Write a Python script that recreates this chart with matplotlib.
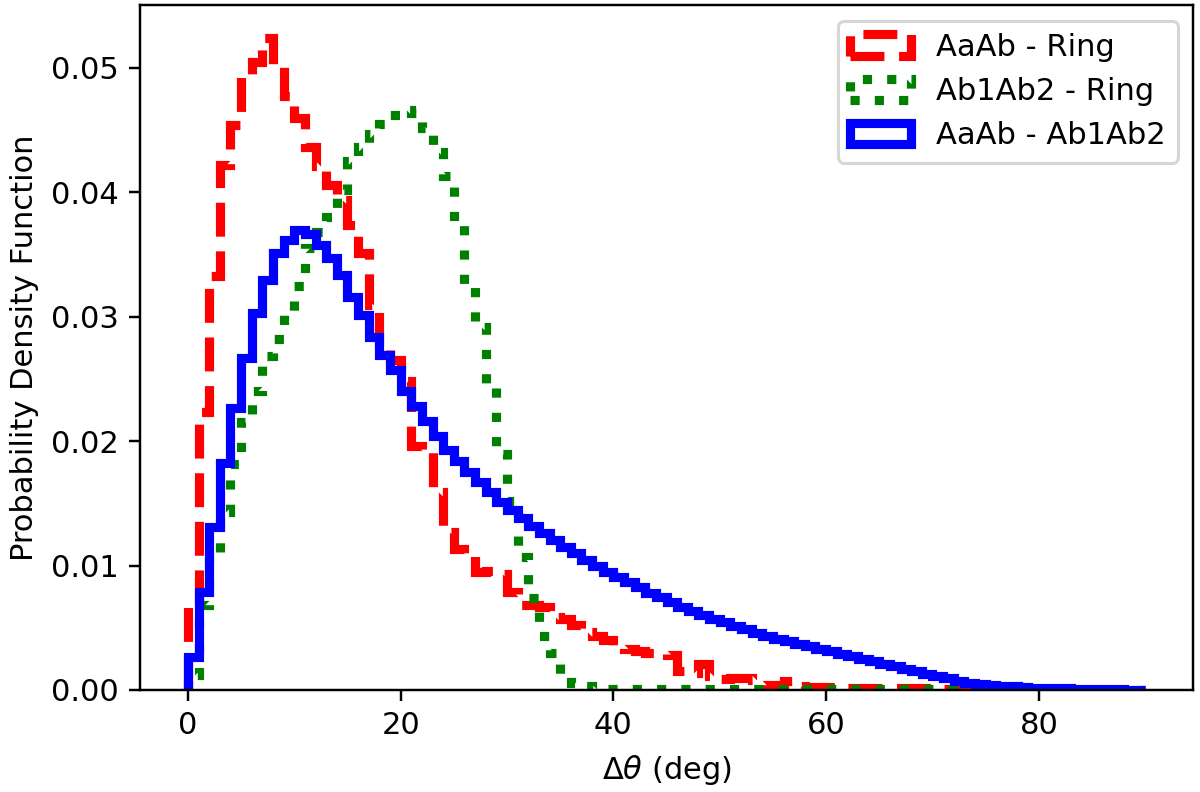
import numpy as np
import matplotlib
matplotlib.use('Agg')
import matplotlib.pyplot as plt

# 1-degree bins from 0 to 90 deg
bin_edges = np.arange(0, 91, 1)

# PDF values per bin
aaab_ring = [
    0.0068, 0.0223, 0.0333, 0.0422, 0.0454, 0.0495, 0.0505, 0.0524, 0.0502, 0.0477,
    0.0460, 0.0436, 0.0421, 0.0406, 0.0394, 0.0374, 0.0351, 0.0309, 0.0276, 0.0265,
    0.0248, 0.0196, 0.0191, 0.0159, 0.0127, 0.0113, 0.0110, 0.0095, 0.0096, 0.0093,
    0.0079, 0.0068, 0.0068, 0.0067, 0.0059, 0.0057, 0.0052, 0.0047, 0.0043, 0.0040,
    0.0034, 0.0033, 0.0031, 0.0030, 0.0029, 0.0028, 0.0015, 0.0014, 0.0021, 0.0011,
    0.0009, 0.0010, 0.0010, 0.0008, 0.0004, 0.0004, 0.0007, 0.0003, 0.00027, 0.00025,
    0.00023, 0.00022, 0.0002, 0.0002, 0.00018, 0.00017, 0.00015, 0.00018, 0.0002, 0.00015,
    0.0001, 0.0001, 0.0001, 0.0001, 0.00005, 0, 0, 0, 0, 0,
    0, 0, 0, 0, 0, 0, 0, 0, 0, 0,
]

ab1ab2_ring = [
    0.0012, 0.0068, 0.0108, 0.0143, 0.0182, 0.0215, 0.0240, 0.0268, 0.0282, 0.0303,
    0.0325, 0.0355, 0.0368, 0.0380, 0.0402, 0.0425, 0.0436, 0.0447, 0.0455, 0.0462,
    0.0466, 0.0464, 0.0452, 0.0432, 0.0413, 0.0377, 0.0326, 0.0292, 0.0244, 0.0190,
    0.0152, 0.0107, 0.0074, 0.0043, 0.0030, 0.0013, 0.0006, 0.0003, 0.0001, 0.0001,
    0.0001, 0.0001, 0.0001, 0.0001, 0.0001, 0.0001, 0.0001, 0.0001, 0.0001, 0.0001,
    0.00005, 0.00005, 0.00005, 0.00005, 0.00005, 0.00005, 0.00005, 0.00005, 0.00005, 0.00005,
    0.00005, 0.00005, 0.00005, 0.00005, 0.00005, 0.00005, 0.00005, 0.00005, 0.00005, 0.00005,
    0.00005, 0.00005, 0.00005, 0, 0, 0, 0, 0, 0, 0,
    0, 0, 0, 0, 0, 0, 0, 0, 0, 0,
]

aaab_ab1ab2 = [
    0.00268, 0.0079, 0.01313, 0.01822, 0.02264, 0.02666, 0.03028, 0.03296, 0.0351, 0.03617,
    0.03698, 0.03666, 0.03577, 0.0347, 0.03336, 0.03162, 0.03014, 0.0284, 0.0269, 0.0257,
    0.0240, 0.0228, 0.0216, 0.0204, 0.0193, 0.0184, 0.0175, 0.0167, 0.0159, 0.0151,
    0.0145, 0.0138, 0.0132, 0.0126, 0.01206, 0.01152, 0.0110, 0.01045, 0.00997, 0.0095,
    0.0091, 0.00866, 0.00825, 0.00782, 0.00745, 0.0071, 0.0067, 0.00638, 0.00603, 0.00573,
    0.00544, 0.00514, 0.00488, 0.00461, 0.00437, 0.00413, 0.0039, 0.0037, 0.0035, 0.0033,
    0.0031, 0.0029, 0.0027, 0.0025, 0.0023, 0.0021, 0.0019, 0.0017, 0.0015, 0.0013,
    0.0011, 0.00095, 0.0007, 0.0006, 0.0005, 0.0004, 0.00035, 0.00029, 0.00024, 0.0002,
    0.00017, 0.00014, 0.00012, 0.0001, 0.00008, 0.00006, 0.00005, 0.00004, 0.00003, 0.00002,
]

centers = bin_edges[:-1] + 0.5

fig = plt.figure(figsize=(1200 / 220, 792 / 220), dpi=220)
ax = fig.add_subplot(111)
fig.subplots_adjust(left=0.1167, right=0.9942, bottom=0.1288, top=0.9933)

ax.hist(centers, bins=bin_edges, weights=aaab_ring, histtype='step',
        color='red', linestyle='--', linewidth=3, label='AaAb - Ring')
ax.hist(centers, bins=bin_edges, weights=ab1ab2_ring, histtype='step',
        color='green', linestyle=':', linewidth=3, label='Ab1Ab2 - Ring')
ax.hist(centers, bins=bin_edges, weights=aaab_ab1ab2, histtype='step',
        color='blue', linestyle='-', linewidth=3, label='AaAb - Ab1Ab2')

ax.set_xlabel(r'$\Delta\theta$ (deg)')
ax.set_ylabel('Probability Density Function')
ax.legend(loc='upper right')

fig.savefig('out.png', dpi=220)
